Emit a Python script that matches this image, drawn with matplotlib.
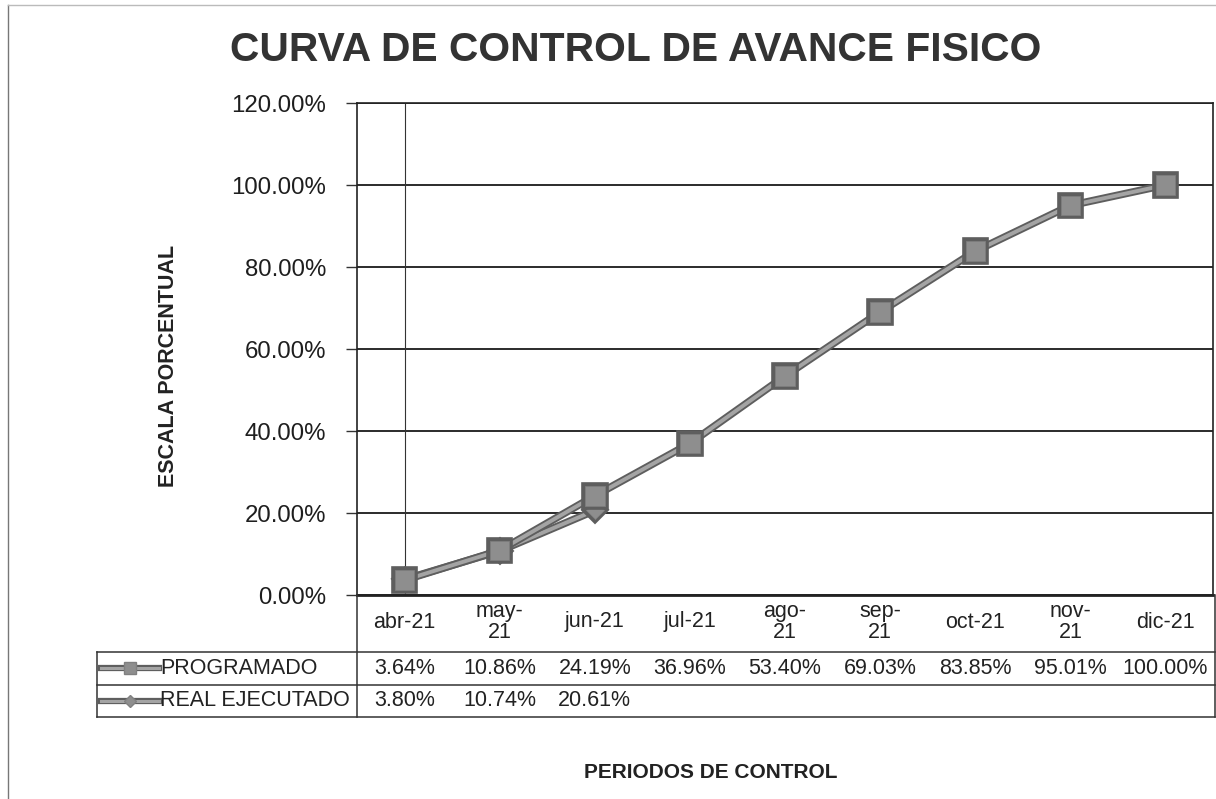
import matplotlib
matplotlib.use("Agg")
import matplotlib.pyplot as plt
import matplotlib.patheffects as pe
from matplotlib.lines import Line2D

plt.rcParams['font.family'] = ['Liberation Sans', 'DejaVu Sans']

# ---- data ----
categories = ["abr-21", "may-\n21", "jun-21", "jul-21", "ago-\n21", "sep-\n21", "oct-21", "nov-\n21", "dic-21"]
programado = [3.64, 10.86, 24.19, 36.96, 53.40, 69.03, 83.85, 95.01, 100.00]
real_ejecutado = [3.80, 10.74, 20.61]
series_names = ["PROGRAMADO", "REAL EJECUTADO"]
y_ticks = [0, 20, 40, 60, 80, 100, 120]

W, H = 1216, 799
fig = plt.figure(figsize=(W / 100, H / 100), dpi=100)
fig.patch.set_facecolor("white")

def fx(px):
    return px / W

def fy(py):
    return 1 - py / H

ax_l, ax_r, ax_t, ax_b = 357, 1213, 103, 595
ax = fig.add_axes([fx(ax_l), fy(ax_b), fx(ax_r) - fx(ax_l), fy(ax_t) - fy(ax_b)])
n = len(categories)
ax.set_xlim(-0.5, n - 0.5)
ax.set_ylim(0, 120)
ax.set_yticks(y_ticks)
ax.set_yticklabels([f"{v:.2f}%" for v in y_ticks], fontsize=17.3, color="#1e1e1e")
ax.set_xticks([])
ax.tick_params(axis="y", length=8, width=1, color="#333333", pad=14)
for s in ax.spines.values():
    s.set_color("#222222")
    s.set_linewidth(1.2)
ax.spines["bottom"].set_linewidth(2)
ax.grid(axis="y", color="#1a1a1a", linewidth=1.3)
ax.set_axisbelow(True)
ax.axvline(0, color="#333333", linewidth=0.8, zorder=1)

line_fx = [pe.Stroke(linewidth=5.5, foreground="#5e5e5e"), pe.Normal()]
x_all = list(range(n))
ax.plot(x_all, programado, color="#a4a4a4", linewidth=2.8, marker="s", markersize=14,
        markerfacecolor="#8e8e8e", markeredgecolor="#808080", markeredgewidth=0.5,
        path_effects=line_fx, zorder=4)
ax.plot(x_all[:len(real_ejecutado)], real_ejecutado, color="#a4a4a4", linewidth=2.8, marker="D",
        markersize=9, markerfacecolor="#8e8e8e", markeredgecolor="#808080", markeredgewidth=0.5,
        path_effects=line_fx, zorder=3)

# ---- title and axis labels ----
fig.text(fx(636), fy(50), "CURVA DE CONTROL DE AVANCE FISICO", fontsize=29.3, fontweight="bold",
         color="#333333", ha="center", va="center")
fig.text(fx(168), fy(366), "ESCALA PORCENTUAL", fontsize=15.5, fontweight="bold", rotation=90,
         color="#222222", ha="center", va="center")
fig.text(fx(711), fy(773), "PERIODOS DE CONTROL", fontsize=15, fontweight="bold",
         color="#222222", ha="center", va="center")

# ---- data table ----
def cat_px(i):
    return ax_l + (i + 0.5) * (ax_r - ax_l) / n

tbl_l, tbl_r = 97, 1215
row_lines = [652, 685, 717]
lc = "#333333"
for yy in row_lines:
    fig.add_artist(Line2D([fx(tbl_l), fx(tbl_r)], [fy(yy), fy(yy)], color=lc, linewidth=1.1))
fig.add_artist(Line2D([fx(tbl_l), fx(tbl_l)], [fy(652), fy(717)], color=lc, linewidth=1.1))
fig.add_artist(Line2D([fx(ax_l), fx(ax_l)], [fy(595), fy(717)], color=lc, linewidth=1.1))
fig.add_artist(Line2D([fx(tbl_r), fx(tbl_r)], [fy(595), fy(717)], color=lc, linewidth=1.1))

fs_tbl = 15.5
for i, c in enumerate(categories):
    fig.text(fx(cat_px(i)), fy(622), c, fontsize=fs_tbl, ha="center", va="center",
             color="#222222", linespacing=1.05)

row_y = [668, 701]
for i, v in enumerate(programado):
    fig.text(fx(cat_px(i)), fy(row_y[0]), f"{v:.2f}%", fontsize=fs_tbl, ha="center", va="center", color="#222222")
for i, v in enumerate(real_ejecutado):
    fig.text(fx(cat_px(i)), fy(row_y[1]), f"{v:.2f}%", fontsize=fs_tbl, ha="center", va="center", color="#222222")

# legend keys
markers = ["s", "D"]
msizes = [8, 6]
for r, (name, m, ms) in enumerate(zip(series_names, markers, msizes)):
    yk = fy(row_y[r])
    fig.add_artist(Line2D([fx(101), fx(159)], [yk, yk], color="#a4a4a4", linewidth=2.2,
                          path_effects=[pe.Stroke(linewidth=4.5, foreground="#5e5e5e"), pe.Normal()]))
    fig.add_artist(Line2D([fx(129.5)], [yk], marker=m, markersize=ms, markerfacecolor="#8e8e8e",
                          markeredgecolor="#808080", linestyle="none"))
    fig.text(fx(160), yk, name, fontsize=fs_tbl, ha="left", va="center", color="#222222")

# chart frame edges (left and top)
fig.add_artist(Line2D([fx(8), fx(8)], [fy(5), fy(799)], color="#777777", linewidth=1))
fig.add_artist(Line2D([fx(8), fx(1216)], [fy(5), fy(5)], color="#bbbbbb", linewidth=1))

fig.savefig("out.png", dpi=100, facecolor="white")
